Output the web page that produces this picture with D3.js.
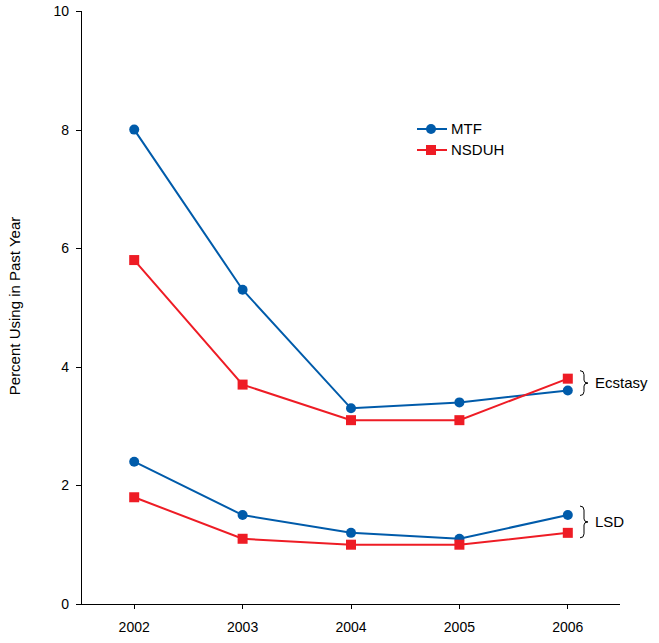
<!DOCTYPE html>
<html><head><meta charset="utf-8">
<script src="https://cdn.jsdelivr.net/npm/d3@7"></script>
<style>body{margin:0;background:#fff;} svg{display:block;} text{font-family:"Liberation Sans",Arial,sans-serif;}</style>
</head><body>
<script>
const years = ["2002","2003","2004","2005","2006"];
const mtfEcstasy = [8.0, 5.3, 3.3, 3.4, 3.6];
const nsduhEcstasy = [5.8, 3.7, 3.1, 3.1, 3.8];
const mtfLSD = [2.4, 1.5, 1.2, 1.1, 1.5];
const nsduhLSD = [1.8, 1.1, 1.0, 1.0, 1.2];
const yTicks = [0, 2, 4, 6, 8, 10];
const seriesNames = ["MTF", "NSDUH"];
const groupLabels = ["Ecstasy", "LSD"];

const W = 659, H = 643;
const blue = "#005BAA", red = "#EE1C25";
const svg = d3.select("body").append("svg").attr("width", W).attr("height", H);

const x = d3.scaleBand().domain(years).range([80, 622]);
const y = d3.scaleLinear().domain([0, 10]).range([604, 11]);
const cx = d => x(d) + x.bandwidth() / 2;

// axes
const yAxis = svg.append("g").attr("transform", "translate(81,0)")
  .call(d3.axisLeft(y).tickValues(yTicks).tickSize(5).tickPadding(7));
yAxis.select(".domain").attr("d", `M0,${y(10)}V${y(0)}`);
const xAxis = svg.append("g").attr("transform", "translate(0,604)")
  .call(d3.axisBottom(x).tickSize(5).tickPadding(13));
xAxis.select(".domain").attr("d", "M77,0H620");
svg.selectAll(".tick text").attr("font-size", 14).attr("fill", "#000")
  .style("font-family", '"Liberation Sans",Arial,sans-serif');
svg.selectAll(".domain, .tick line").attr("stroke", "#000").attr("stroke-width", 1);
svg.selectAll(".domain").attr("shape-rendering", "crispEdges");
svg.selectAll(".tick line").attr("shape-rendering", "crispEdges");

svg.append("text").attr("transform", "translate(20,306) rotate(-90)")
  .attr("text-anchor", "middle").attr("font-size", 15).text("Percent Using in Past Year");

const line = d3.line().x((d, i) => cx(years[i])).y(d => y(d));

function drawSeries(vals, color, shape) {
  svg.append("path").datum(vals).attr("d", line).attr("fill", "none")
    .attr("stroke", color).attr("stroke-width", 2);
  vals.forEach((v, i) => {
    if (shape === "circle") {
      svg.append("circle").attr("cx", cx(years[i])).attr("cy", y(v)).attr("r", 5).attr("fill", color);
    } else {
      svg.append("rect").attr("x", cx(years[i]) - 5).attr("y", y(v) - 5).attr("width", 10).attr("height", 10).attr("fill", color);
    }
  });
}
drawSeries(mtfEcstasy, blue, "circle");
drawSeries(nsduhEcstasy, red, "square");
drawSeries(mtfLSD, blue, "circle");
drawSeries(nsduhLSD, red, "square");

// legend
const leg = [[seriesNames[0], blue, "circle", 129], [seriesNames[1], red, "square", 150]];
leg.forEach(([name, color, shape, ly]) => {
  svg.append("line").attr("x1", 417).attr("x2", 447).attr("y1", ly).attr("y2", ly)
    .attr("stroke", color).attr("stroke-width", 2);
  if (shape === "circle") svg.append("circle").attr("cx", 431).attr("cy", ly).attr("r", 5).attr("fill", color);
  else svg.append("rect").attr("x", 426).attr("y", ly - 5).attr("width", 10).attr("height", 10).attr("fill", color);
  svg.append("text").attr("x", 451).attr("y", ly + 5).attr("font-size", 15).text(name);
});

// braces
function brace(x0, y0, y1, label) {
  const m = (y0 + y1) / 2, w = 4;
  const p = `M${x0},${y0} Q${x0 + w},${y0} ${x0 + w},${y0 + 4} L${x0 + w},${m - 3} Q${x0 + w},${m} ${x0 + w * 2},${m} Q${x0 + w},${m} ${x0 + w},${m + 3} L${x0 + w},${y1 - 4} Q${x0 + w},${y1} ${x0},${y1}`;
  svg.append("path").attr("d", p).attr("fill", "none").attr("stroke", "#000").attr("stroke-width", 1);
  svg.append("text").attr("x", 595).attr("y", m + 5).attr("font-size", 15).text(label);
}
brace(580, y(d3.max([mtfEcstasy[4], nsduhEcstasy[4]])) - 8, y(d3.min([mtfEcstasy[4], nsduhEcstasy[4]])) + 5, groupLabels[0]);
brace(580, y(d3.max([mtfLSD[4], nsduhLSD[4]])) - 9, y(d3.min([mtfLSD[4], nsduhLSD[4]])) + 5, groupLabels[1]);
</script>
</body></html>
